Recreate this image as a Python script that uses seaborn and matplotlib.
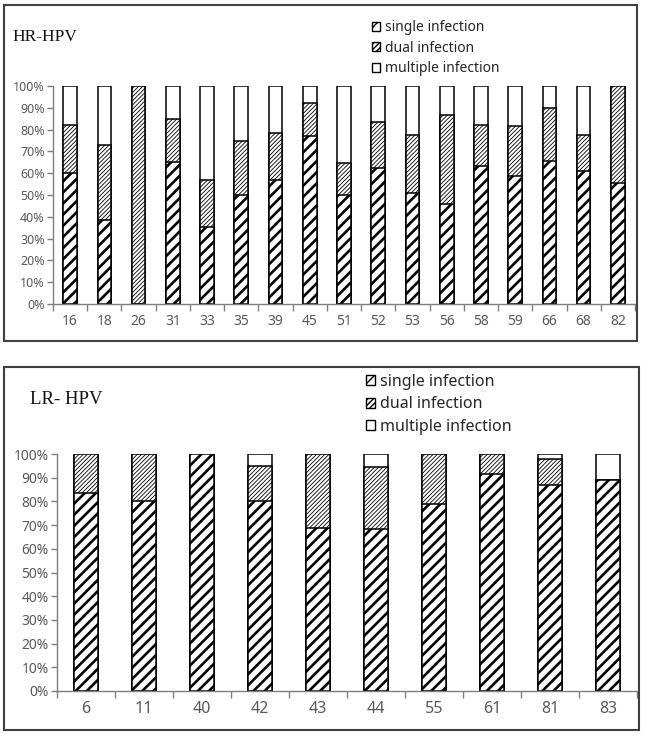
import numpy as np
import pandas as pd
import seaborn as sns
import matplotlib.pyplot as plt
from matplotlib.patches import Patch, Rectangle
from matplotlib.ticker import PercentFormatter, FixedLocator

# Datos (porcentajes por tipo de VPH)
hr_types = ['16', '18', '26', '31', '33', '35', '39', '45', '51', '52', '53', '56', '58', '59', '66', '68', '82']
hr_single = [60.0, 38.5, 0.0, 65.0, 35.5, 50.0, 57.0, 77.0, 50.0, 62.5, 50.8, 45.8, 63.2, 58.8, 65.7, 61.0, 55.3]
hr_dual = [22.3, 34.6, 100.0, 20.0, 21.6, 25.0, 21.5, 15.2, 14.7, 21.2, 26.9, 40.8, 19.1, 22.7, 24.4, 16.7, 44.7]
hr_multiple = [17.7, 26.9, 0.0, 15.0, 42.9, 25.0, 21.5, 7.8, 35.3, 16.3, 22.3, 13.4, 17.7, 18.5, 9.9, 22.3, 0.0]

lr_types = ['6', '11', '40', '42', '43', '44', '55', '61', '81', '83']
lr_single = [83.4, 80.0, 100.0, 80.0, 68.6, 68.3, 78.9, 91.4, 86.9, 89.2]
lr_dual = [16.6, 20.0, 0.0, 15.1, 31.4, 26.3, 21.1, 8.6, 10.8, 0.0]
lr_multiple = [0.0, 0.0, 0.0, 4.9, 0.0, 5.4, 0.0, 0.0, 2.3, 10.8]

legend_labels = ['single infection', 'dual infection', 'multiple infection']
pct_ticks = list(range(0, 101, 10))

W, H = 645, 738
sns.set_theme(style='white')
plt.rcParams['font.family'] = ['Noto Sans', 'DejaVu Sans']

GREY = '#595959'
AXIS = '#7f7f7f'
HATCH_SINGLE = '///'
HATCH_DUAL = '////////'


def fx(px):
    return px / W


def fy(py):
    return 1 - py / H


def draw_panel(ax, types, single, dual, multiple, ytick_size, xtick_size):
    '''Barras apiladas al 100% dibujadas como totales acumulados superpuestos'''
    df = pd.DataFrame({'type': types, 'single': single, 'dual': dual, 'multiple': multiple})
    df['single_dual'] = df['single'] + df['dual']
    df['total'] = df['single_dual'] + df['multiple']
    sns.barplot(data=df, x='type', y='total', color='white', edgecolor='black',
                linewidth=1.1, width=0.4, errorbar=None, saturation=1, ax=ax)
    with plt.rc_context({'hatch.linewidth': 0.6}):
        sns.barplot(data=df, x='type', y='single_dual', color='white', edgecolor='black',
                    linewidth=1.1, width=0.4, errorbar=None, saturation=1, hatch=HATCH_DUAL, ax=ax)
    with plt.rc_context({'hatch.linewidth': 1.9}):
        sns.barplot(data=df, x='type', y='single', color='white', edgecolor='black',
                    linewidth=1.1, width=0.4, errorbar=None, saturation=1, hatch=HATCH_SINGLE, ax=ax)
    n = len(types)
    ax.set_xlim(-0.5, n - 0.5)
    ax.set_ylim(0, 100)
    ax.set_xlabel('')
    ax.set_ylabel('')
    ax.set_yticks(pct_ticks)
    ax.yaxis.set_major_formatter(PercentFormatter(decimals=0))
    ax.xaxis.set_minor_locator(FixedLocator(np.arange(n + 1) - 0.5))
    ax.tick_params(axis='y', which='major', length=4, width=1, color=AXIS, direction='out',
                   labelsize=ytick_size, labelcolor=GREY, pad=2, left=True)
    ax.tick_params(axis='x', which='major', length=0, labelsize=xtick_size, labelcolor=GREY, pad=7)
    ax.tick_params(axis='x', which='minor', length=5, width=1, color=AXIS, direction='out', bottom=True)
    for side in ['top', 'right']:
        ax.spines[side].set_visible(False)
    for side in ['left', 'bottom']:
        ax.spines[side].set_color(AXIS)
        ax.spines[side].set_linewidth(1.0)
    ax.grid(False)


def legend_handles():
    return [Patch(facecolor='white', edgecolor='black', hatch='//'),
            Patch(facecolor='white', edgecolor='black', hatch='//////'),
            Patch(facecolor='white', edgecolor='black')]


fig = plt.figure(figsize=(W / 100, H / 100), dpi=100)
fig.patch.set_facecolor('white')

# Panel superior: HR-HPV
ax1 = fig.add_axes([fx(53), fy(304), fx(635) - fx(53), fy(86) - fy(304)])
draw_panel(ax1, hr_types, hr_single, hr_dual, hr_multiple, 9, 10)

# Panel inferior: LR-HPV
ax2 = fig.add_axes([fx(57), fy(691), fx(637) - fx(57), fy(454) - fy(691)])
draw_panel(ax2, lr_types, lr_single, lr_dual, lr_multiple, 10, 11.5)

# Marcos de cada grafico
fig.add_artist(Rectangle((fx(4), fy(341)), fx(637) - fx(4), fy(5) - fy(341),
                         transform=fig.transFigure, fill=False, edgecolor='#404040', linewidth=1.5))
fig.add_artist(Rectangle((fx(4), fy(730)), fx(639) - fx(4), fy(367) - fy(730),
                         transform=fig.transFigure, fill=False, edgecolor='#404040', linewidth=1.5))

# Titulos
fig.text(fx(12), fy(37), 'HR-HPV', family='Liberation Serif', fontsize=12.5, va='center', ha='left', color='#111111')
fig.text(fx(30), fy(400), 'LR- HPV', family='Liberation Serif', fontsize=13.5, va='center', ha='left', color='#111111')

# Leyendas
with plt.rc_context({'hatch.linewidth': 1.0}):
    fig.legend(legend_handles(), legend_labels, loc='upper left', bbox_to_anchor=(fx(372), fy(20)),
               frameon=False, fontsize=10, handlelength=0.6, handleheight=0.6, handletextpad=0.3,
               labelspacing=0.4, borderpad=0, borderaxespad=0)
    fig.legend(legend_handles(), legend_labels, loc='upper left', bbox_to_anchor=(fx(366), fy(374)),
               frameon=False, fontsize=11.5, handlelength=0.55, handleheight=0.6, handletextpad=0.3,
               labelspacing=0.4, borderpad=0, borderaxespad=0)

plt.savefig('out.png', dpi=100)
